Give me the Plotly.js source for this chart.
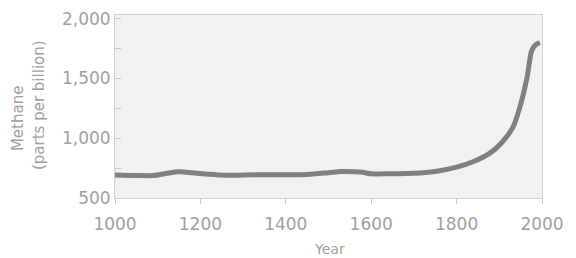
<!DOCTYPE html>
<html><head><meta charset="utf-8">
<script src="https://cdn.plot.ly/plotly-3.0.1.min.js"></script>
<style>html,body{margin:0;padding:0;background:#fff}#c{width:576px;height:258px}</style>
</head><body><div id="c"></div>
<script>
var years = [1000,1050,1090,1120,1150,1180,1220,1260,1300,1350,1400,1450,1500,1530,1560,1580,1600,1650,1700,1750,1800,1840,1878,1905,1932,1948,1965,1976,1985,1995];
var methane = [692,688,688,705,719,712,698,690,692,695,695,697,712,722,720,715,702,703,706,722,758,805,875,960,1092,1258,1508,1733,1780,1800];
var yTicks = [500,1000,1500,2000];
var yTickText = ['500','1,000','1,500','2,000'];
var xTicks = [1000,1200,1400,1600,1800,2000];
var yTitle1 = 'Methane';
var yTitle2 = '(parts per billion)';
var xTitle = 'Year';

var ff = '"DejaVu Sans", sans-serif';
var gray = '#a0a0a0';
Plotly.newPlot('c', [{
  x: years, y: methane, mode:'lines', type:'scatter',
  line:{color:'#808080', width:5, shape:'spline', smoothing:0.8},
  hoverinfo:'skip'
}], {
  width:576, height:258,
  margin:{l:115, r:34, t:15, b:60},
  paper_bgcolor:'#ffffff', plot_bgcolor:'#f1f1f1',
  showlegend:false,
  font:{family:ff, size:17, color:gray},
  xaxis:{range:[1000,2000], tickvals:xTicks, ticktext:xTicks.map(String), ticks:'outside', ticklen:5, tickcolor:'#c8c8c8',
    ticklabelstandoff:6,
    showgrid:false, zeroline:false, showline:true, linecolor:'#d0d0d0', linewidth:1, mirror:true},
  yaxis:{range:[500,2030], tickvals:yTicks, ticktext:yTickText, ticks:'inside', ticklen:6, tickcolor:'#c8c8c8',
    minor:{tickvals:[750,1250,1750], ticks:'inside', ticklen:6, tickcolor:'#c8c8c8', showgrid:false},
    showgrid:false, zeroline:false, showline:true, linecolor:'#d0d0d0', linewidth:1, mirror:true},
  annotations:[
    {text:yTitle1, xref:'paper', yref:'paper', x:-0.227, y:0.437, textangle:-90, showarrow:false, xanchor:'center', yanchor:'middle', font:{family:ff, size:15, color:gray}},
    {text:yTitle2, xref:'paper', yref:'paper', x:-0.178, y:0.508, textangle:-90, showarrow:false, xanchor:'center', yanchor:'middle', font:{family:ff, size:15, color:gray}},
    {text:xTitle, xref:'paper', yref:'paper', x:0.5035, y:-0.28, showarrow:false, xanchor:'center', yanchor:'middle', font:{family:ff, size:14, color:gray}}
  ]
}, {staticPlot:true, displayModeBar:false});
</script></body></html>
